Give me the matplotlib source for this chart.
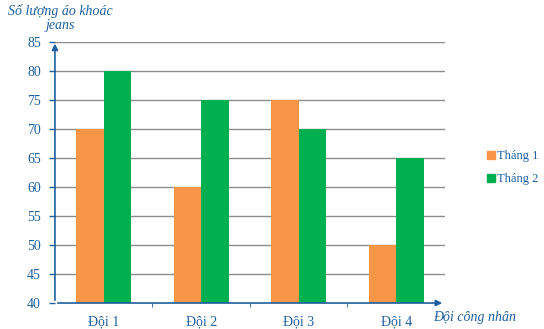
import matplotlib.pyplot as plt
import numpy as np
from matplotlib.patches import Patch

teams = ["Đội 1", "Đội 2", "Đội 3", "Đội 4"]
thang1 = [70, 60, 75, 50]
thang2 = [80, 75, 70, 65]
yticks = [40, 45, 50, 55, 60, 65, 70, 75, 80, 85]

blue = "#1f5f9f"
orange = "#F79646"
green = "#00B050"

plt.rcParams["font.family"] = ["Liberation Serif", "DejaVu Serif"]

fig = plt.figure(figsize=(5.44, 3.29), dpi=100)
ax = fig.add_axes([0.101, 0.079, 0.717, 0.793])

x = np.arange(len(teams))
w = 0.28
ax.bar(x - w / 2, np.array(thang1) - 40, w, bottom=40, color=orange, label="Tháng 1", zorder=3)
ax.bar(x + w / 2, np.array(thang2) - 40, w, bottom=40, color=green, label="Tháng 2", zorder=3)

ax.set_xlim(-0.5, 3.5)
ax.set_ylim(40, 85)
ax.set_yticks(yticks)
ax.set_xticks(x)
ax.set_xticklabels(teams)
ax.set_xticks(x[:-1] + 0.5, minor=True)
ax.tick_params(axis="both", colors=blue, labelsize=10, width=1)
ax.tick_params(axis="x", which="major", length=0, pad=9)
ax.tick_params(axis="x", which="minor", length=3, direction="out", colors=blue)
ax.tick_params(axis="y", direction="out", length=4, pad=6)
for lbl in ax.get_xticklabels() + ax.get_yticklabels():
    lbl.set_color(blue)

for yv in yticks[1:]:
    ax.axhline(yv, color="#8c8c8c", lw=1, zorder=1)

for s in ["top", "right", "left", "bottom"]:
    ax.spines[s].set_visible(False)

# axes drawn as arrows
ax.annotate("", xy=(0, 1.005), xytext=(0, 0), xycoords="axes fraction",
            arrowprops=dict(arrowstyle="-|>", color=blue, lw=1.2, mutation_scale=9),
            annotation_clip=False, zorder=5)
ax.annotate("", xy=(1.0, 0), xytext=(0, 0), xycoords="axes fraction",
            arrowprops=dict(arrowstyle="-|>", color=blue, lw=1.2, mutation_scale=9),
            annotation_clip=False, zorder=5)

fig.text(0.11, 0.967, "Số lượng áo khoác", style="italic", color=blue, fontsize=10,
         ha="center", va="center")
fig.text(0.11, 0.922, "jeans", style="italic", color=blue, fontsize=10,
         ha="center", va="center")
fig.text(0.872, 0.034, "Đội công nhân", style="italic", color=blue, fontsize=10,
         ha="center", va="center")

handles = [Patch(color=orange, label="Tháng 1"), Patch(color=green, label="Tháng 2")]
leg = fig.legend(handles=handles, loc="center left", bbox_to_anchor=(0.875, 0.49),
                 frameon=False, fontsize=9, handlelength=0.65, handleheight=0.65,
                 handletextpad=0.15, labelspacing=0.85)
for t in leg.get_texts():
    t.set_color(blue)

fig.savefig("out.png", dpi=100)
